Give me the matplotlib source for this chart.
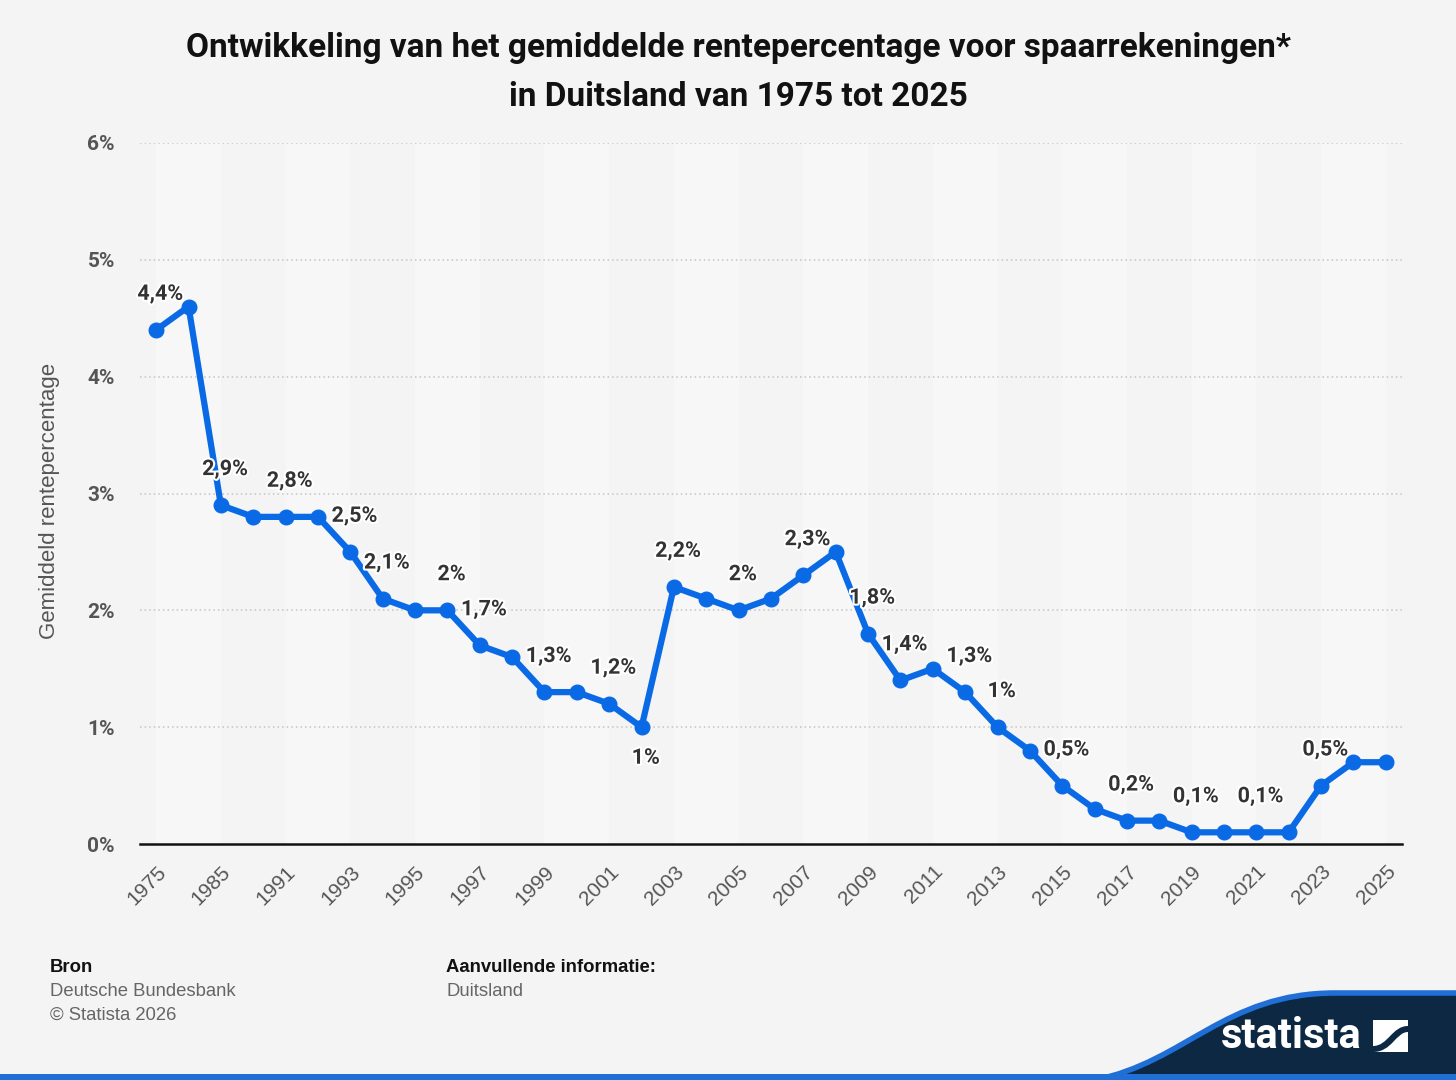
import matplotlib.pyplot as plt
import matplotlib.patheffects as pe
from matplotlib.path import Path
from matplotlib.patches import PathPatch, Rectangle

# data
years = [1975, 1980, 1985, 1990, 1991, 1992, 1993, 1994, 1995, 1996, 1997, 1998,
         1999, 2000, 2001, 2002, 2003, 2004, 2005, 2006, 2007, 2008, 2009, 2010,
         2011, 2012, 2013, 2014, 2015, 2016, 2017, 2018, 2019, 2020, 2021, 2022,
         2023, 2024, 2025]
rates = [4.4, 4.6, 2.9, 2.8, 2.8, 2.8, 2.5, 2.1, 2.0, 2.0, 1.7, 1.6,
         1.3, 1.3, 1.2, 1.0, 2.2, 2.1, 2.0, 2.1, 2.3, 2.5, 1.8, 1.4,
         1.5, 1.3, 1.0, 0.8, 0.5, 0.3, 0.2, 0.2, 0.1, 0.1, 0.1, 0.1,
         0.5, 0.7, 0.7]
label_years = [1975, 1985, 1991, 1993, 1994, 1996, 1997, 1999, 2001, 2002, 2003,
               2005, 2007, 2009, 2010, 2012, 2013, 2015, 2017, 2019, 2021, 2023]
label_below = [2002]
y_ticks = [0, 1, 2, 3, 4, 5, 6]

title = ("Ontwikkeling van het gemiddelde rentepercentage voor spaarrekeningen*\n"
         "in Duitsland van 1975 tot 2025")
y_label = "Gemiddeld rentepercentage"

BG = '#f4f4f4'
BLUE = '#0a6ae6'
NAVY = '#0c2842'
NARROW = ['Liberation Sans Narrow', 'Roboto', 'DejaVu Sans']
SANS = ['Liberation Sans', 'DejaVu Sans']

fig = plt.figure(figsize=(14.56, 10.8), dpi=100, facecolor=BG)

# decoration layer (footer swoosh, logo)
deco = fig.add_axes([0, 0, 1, 1], zorder=0)
deco.set_xlim(0, 1456)
deco.set_ylim(1080, 0)
deco.axis('off')
deco.patch.set_alpha(0)

curve = [(1095, 1080), (1185, 1062), (1225, 993), (1335, 993), (1456, 993)]
navy_path = Path([curve[0], curve[1], curve[2], curve[3], curve[4], (1456, 1080), curve[0]],
                 [Path.MOVETO, Path.CURVE4, Path.CURVE4, Path.CURVE4, Path.LINETO,
                  Path.LINETO, Path.CLOSEPOLY])
deco.add_patch(PathPatch(navy_path, facecolor=NAVY, edgecolor='none'))
edge_path = Path(curve, [Path.MOVETO, Path.CURVE4, Path.CURVE4, Path.CURVE4, Path.LINETO])
deco.add_patch(PathPatch(edge_path, facecolor='none', edgecolor='#1f6fd6', lw=4))
deco.add_patch(Rectangle((0, 1074), 1456, 6, facecolor='#1f6fd6', edgecolor='none'))

deco.text(1362, 1036, 'statista', color='white', fontsize=30, fontweight='bold',
          family=NARROW, ha='right', va='center')
deco.add_patch(Rectangle((1373, 1020), 35, 32, facecolor='white', edgecolor='none'))
wave = Path([(1373, 1046), (1388, 1046), (1392, 1026), (1408, 1026),
             (1408, 1032), (1396, 1032), (1392, 1052), (1373, 1052), (1373, 1046)],
            [Path.MOVETO, Path.CURVE4, Path.CURVE4, Path.CURVE4,
             Path.LINETO, Path.CURVE4, Path.CURVE4, Path.CURVE4, Path.CLOSEPOLY])
deco.add_patch(PathPatch(wave, facecolor=NAVY, edgecolor='none'))

# footer texts
fs_foot = 13.3
deco.text(50, 967, 'Bron', fontsize=fs_foot, fontweight='bold', color='#111111',
          family=SANS, va='center')
deco.text(50, 991, 'Deutsche Bundesbank', fontsize=fs_foot, color='#666666',
          family=SANS, va='center')
deco.text(50, 1015, '\u00a9 Statista 2026', fontsize=fs_foot, color='#666666',
          family=SANS, va='center')
deco.text(446, 967, 'Aanvullende informatie:', fontsize=fs_foot, fontweight='bold',
          color='#111111', family=SANS, va='center')
deco.text(446, 991, 'Duitsland', fontsize=fs_foot, color='#666666', family=SANS, va='center')

fig.text(0.507, 0.97, title, ha='center', va='top', fontsize=24, fontweight='bold',
         family=NARROW, color='#111111', linespacing=1.68)

# main chart
ax = fig.add_axes([140 / 1456, 236 / 1080, 1262 / 1456, 701 / 1080], zorder=1)
ax.set_facecolor(BG)
x = list(range(len(years)))

for i in range(0, len(years) - 1, 4):
    ax.axvspan(i, i + 2, color='#f7f7f7', zorder=0, lw=0)

for t in y_ticks[1:]:
    ax.axhline(t, color='#c4c4c4', lw=1.1, ls=(0, (1, 2)), zorder=1)

ax.plot(x, rates, color=BLUE, lw=4.5, marker='o', markersize=10.5,
        solid_joinstyle='round', zorder=3, clip_on=False)

halo = [pe.withStroke(linewidth=3, foreground='white')]
for yr in label_years:
    i = years.index(yr)
    v = rates[i]
    txt = f"{v:g}".replace('.', ',') + '%'
    dy = -22 if yr in label_below else 26
    ax.annotate(txt, (i, v), xytext=(3, dy), textcoords='offset points',
                ha='center', va='center', fontsize=15.5, fontweight='bold',
                color='#333333', family=NARROW, path_effects=halo, zorder=4)

ax.set_xlim(-0.5, len(years) - 0.5)
ax.set_ylim(0, 6)
ax.set_yticks(y_ticks)
ax.set_yticklabels([f"{t}%" for t in y_ticks], family=NARROW, fontsize=15,
                   fontweight='bold', color='#555555')
ax.set_xticks(x[::2])
ax.set_xticklabels([str(y) for y in years[::2]], rotation=45, ha='right',
                   rotation_mode='anchor', fontsize=15, color='#555555', family=SANS)
ax.tick_params(axis='y', length=0, pad=18)
ax.tick_params(axis='x', length=0, pad=13)
for s in ['top', 'right', 'left']:
    ax.spines[s].set_visible(False)
ax.spines['bottom'].set_color('#111111')
ax.spines['bottom'].set_linewidth(1.8)
ax.spines['bottom'].set_zorder(2)

ax.set_ylabel(y_label, fontsize=16, color='#555555', family=SANS)
ax.yaxis.set_label_coords(-80 / 1262, 0.49)

fig.savefig('out.png', dpi=100, facecolor=BG)
